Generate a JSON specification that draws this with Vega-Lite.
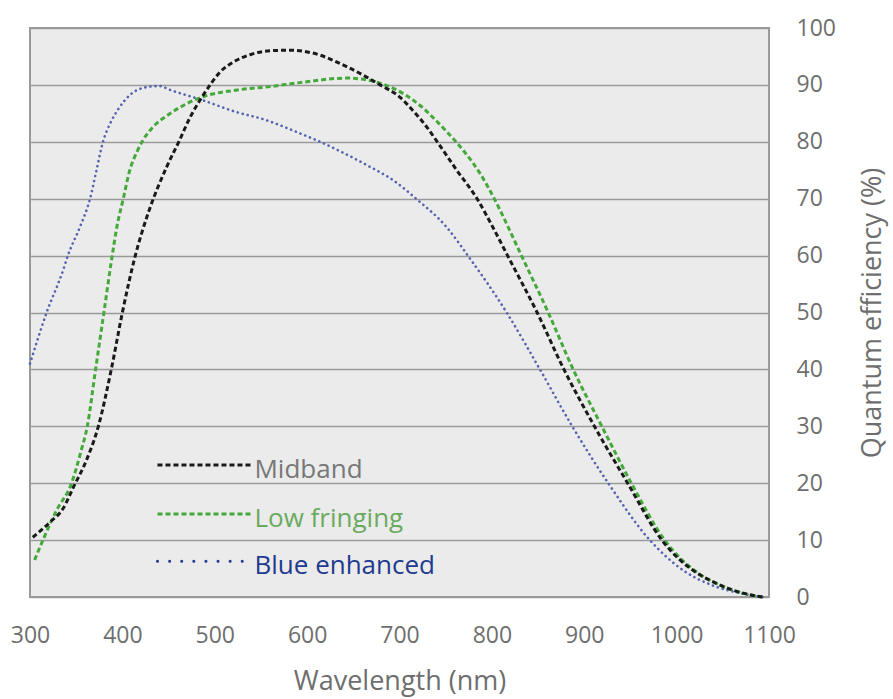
{
  "$schema": "https://vega.github.io/schema/vega-lite/v6.json",
  "width": 739,
  "height": 569,
  "autosize": {"type": "none"},
  "padding": {"left": 30, "top": 28, "right": 124, "bottom": 102},
  "background": "white",
  "config": {
    "view": {"fill": "#ebebeb", "stroke": "#9a9a9a", "strokeWidth": 2},
    "font": "Open Sans"
  },
  "datasets": {
    "curves": [
      {"series": "Midband", "wl": 303, "qe": 10.5},
      {"series": "Midband", "wl": 322, "qe": 13.2},
      {"series": "Midband", "wl": 336, "qe": 15.6},
      {"series": "Midband", "wl": 347, "qe": 19.3},
      {"series": "Midband", "wl": 361, "qe": 24},
      {"series": "Midband", "wl": 374, "qe": 30},
      {"series": "Midband", "wl": 388, "qe": 40},
      {"series": "Midband", "wl": 400, "qe": 50},
      {"series": "Midband", "wl": 414, "qe": 60},
      {"series": "Midband", "wl": 428, "qe": 67.5},
      {"series": "Midband", "wl": 448, "qe": 75.6},
      {"series": "Midband", "wl": 462, "qe": 80.3},
      {"series": "Midband", "wl": 473, "qe": 84.2},
      {"series": "Midband", "wl": 484, "qe": 87.3},
      {"series": "Midband", "wl": 495, "qe": 90},
      {"series": "Midband", "wl": 506, "qe": 92.3},
      {"series": "Midband", "wl": 520, "qe": 94},
      {"series": "Midband", "wl": 538, "qe": 95.3},
      {"series": "Midband", "wl": 560, "qe": 96},
      {"series": "Midband", "wl": 581, "qe": 96.1},
      {"series": "Midband", "wl": 606, "qe": 95.6},
      {"series": "Midband", "wl": 643, "qe": 93.2},
      {"series": "Midband", "wl": 679, "qe": 90},
      {"series": "Midband", "wl": 700, "qe": 87.9},
      {"series": "Midband", "wl": 715, "qe": 85.4},
      {"series": "Midband", "wl": 730, "qe": 82.5},
      {"series": "Midband", "wl": 740, "qe": 80.2},
      {"series": "Midband", "wl": 762, "qe": 75},
      {"series": "Midband", "wl": 784, "qe": 70},
      {"series": "Midband", "wl": 801, "qe": 65},
      {"series": "Midband", "wl": 817, "qe": 60},
      {"series": "Midband", "wl": 849, "qe": 50},
      {"series": "Midband", "wl": 878, "qe": 40},
      {"series": "Midband", "wl": 911, "qe": 30},
      {"series": "Midband", "wl": 947, "qe": 20},
      {"series": "Midband", "wl": 984, "qe": 10},
      {"series": "Midband", "wl": 1025, "qe": 3.9},
      {"series": "Midband", "wl": 1043, "qe": 2.4},
      {"series": "Midband", "wl": 1061, "qe": 1.2},
      {"series": "Midband", "wl": 1079, "qe": 0.4},
      {"series": "Midband", "wl": 1093, "qe": 0},
      {"series": "Low fringing", "wl": 305, "qe": 6.5},
      {"series": "Low fringing", "wl": 314, "qe": 10},
      {"series": "Low fringing", "wl": 329, "qe": 15.3},
      {"series": "Low fringing", "wl": 345, "qe": 20},
      {"series": "Low fringing", "wl": 355, "qe": 25.5},
      {"series": "Low fringing", "wl": 362, "qe": 30},
      {"series": "Low fringing", "wl": 371, "qe": 40},
      {"series": "Low fringing", "wl": 380, "qe": 50},
      {"series": "Low fringing", "wl": 389, "qe": 60},
      {"series": "Low fringing", "wl": 394, "qe": 65},
      {"series": "Low fringing", "wl": 401, "qe": 70},
      {"series": "Low fringing", "wl": 408, "qe": 75},
      {"series": "Low fringing", "wl": 416, "qe": 78.3},
      {"series": "Low fringing", "wl": 422, "qe": 80.2},
      {"series": "Low fringing", "wl": 432, "qe": 82.4},
      {"series": "Low fringing", "wl": 452, "qe": 85},
      {"series": "Low fringing", "wl": 487, "qe": 87.9},
      {"series": "Low fringing", "wl": 524, "qe": 89.1},
      {"series": "Low fringing", "wl": 560, "qe": 89.7},
      {"series": "Low fringing", "wl": 592, "qe": 90.4},
      {"series": "Low fringing", "wl": 643, "qe": 91.2},
      {"series": "Low fringing", "wl": 679, "qe": 90.3},
      {"series": "Low fringing", "wl": 715, "qe": 87.3},
      {"series": "Low fringing", "wl": 751, "qe": 81.8},
      {"series": "Low fringing", "wl": 770, "qe": 78.3},
      {"series": "Low fringing", "wl": 787, "qe": 74.5},
      {"series": "Low fringing", "wl": 801, "qe": 70.5},
      {"series": "Low fringing", "wl": 832, "qe": 60},
      {"series": "Low fringing", "wl": 861, "qe": 50},
      {"series": "Low fringing", "wl": 888, "qe": 40},
      {"series": "Low fringing", "wl": 919, "qe": 30},
      {"series": "Low fringing", "wl": 951, "qe": 20},
      {"series": "Low fringing", "wl": 987, "qe": 10},
      {"series": "Low fringing", "wl": 1025, "qe": 4},
      {"series": "Low fringing", "wl": 1043, "qe": 2.4},
      {"series": "Low fringing", "wl": 1061, "qe": 1.2},
      {"series": "Low fringing", "wl": 1079, "qe": 0.4},
      {"series": "Low fringing", "wl": 1093, "qe": 0},
      {"series": "Blue enhanced", "wl": 300, "qe": 41},
      {"series": "Blue enhanced", "wl": 318, "qe": 50},
      {"series": "Blue enhanced", "wl": 336, "qe": 57.5},
      {"series": "Blue enhanced", "wl": 341, "qe": 60},
      {"series": "Blue enhanced", "wl": 354, "qe": 65},
      {"series": "Blue enhanced", "wl": 365, "qe": 70},
      {"series": "Blue enhanced", "wl": 372, "qe": 75},
      {"series": "Blue enhanced", "wl": 379, "qe": 80},
      {"series": "Blue enhanced", "wl": 387, "qe": 83.3},
      {"series": "Blue enhanced", "wl": 395, "qe": 85.6},
      {"series": "Blue enhanced", "wl": 408, "qe": 88.2},
      {"series": "Blue enhanced", "wl": 426, "qe": 89.6},
      {"series": "Blue enhanced", "wl": 440, "qe": 89.8},
      {"series": "Blue enhanced", "wl": 452, "qe": 89.1},
      {"series": "Blue enhanced", "wl": 487, "qe": 87.3},
      {"series": "Blue enhanced", "wl": 524, "qe": 85.2},
      {"series": "Blue enhanced", "wl": 552, "qe": 84},
      {"series": "Blue enhanced", "wl": 592, "qe": 81.5},
      {"series": "Blue enhanced", "wl": 614, "qe": 80},
      {"series": "Blue enhanced", "wl": 660, "qe": 76.3},
      {"series": "Blue enhanced", "wl": 697, "qe": 72.8},
      {"series": "Blue enhanced", "wl": 718, "qe": 70},
      {"series": "Blue enhanced", "wl": 751, "qe": 65},
      {"series": "Blue enhanced", "wl": 774, "qe": 60},
      {"series": "Blue enhanced", "wl": 816, "qe": 50},
      {"series": "Blue enhanced", "wl": 852, "qe": 40},
      {"series": "Blue enhanced", "wl": 887, "qe": 30},
      {"series": "Blue enhanced", "wl": 926, "qe": 20},
      {"series": "Blue enhanced", "wl": 971, "qe": 10},
      {"series": "Blue enhanced", "wl": 1007, "qe": 4.7},
      {"series": "Blue enhanced", "wl": 1043, "qe": 1.8},
      {"series": "Blue enhanced", "wl": 1068, "qe": 0.7},
      {"series": "Blue enhanced", "wl": 1093, "qe": 0}
    ],
    "legend": [
      {"series": "Midband", "wl": 438, "qe": 23.2},
      {"series": "Midband", "wl": 541, "qe": 23.2},
      {"series": "Low fringing", "wl": 438, "qe": 14.6},
      {"series": "Low fringing", "wl": 541, "qe": 14.6},
      {"series": "Blue enhanced", "wl": 438, "qe": 6.3},
      {"series": "Blue enhanced", "wl": 541, "qe": 6.3}
    ],
    "labels": [
      {"series": "Midband", "wl": 543, "qe": 23.2},
      {"series": "Low fringing", "wl": 543, "qe": 14.6},
      {"series": "Blue enhanced", "wl": 543, "qe": 6.3}
    ]
  },
  "encoding": {
    "x": {
      "field": "wl", "type": "quantitative",
      "scale": {"domain": [300, 1100], "nice": false, "zero": false},
      "axis": {
        "values": [300, 400, 500, 600, 700, 800, 900, 1000, 1100],
        "format": "d", "labelFlush": false, "labelOverlap": false,
        "grid": false, "ticks": false, "domain": false,
        "labelFontSize": 23, "labelColor": "#6e6e6e", "labelPadding": 27,
        "title": "Wavelength (nm)", "titleFontSize": 27, "titleFontWeight": "normal",
        "titleColor": "#6e6e6e", "titlePadding": 21
      }
    },
    "y": {
      "field": "qe", "type": "quantitative",
      "scale": {"domain": [0, 100], "nice": false},
      "axis": {
        "orient": "right",
        "values": [0, 10, 20, 30, 40, 50, 60, 70, 80, 90, 100],
        "format": "d", "labelFlush": false, "labelOverlap": false,
        "grid": true, "gridColor": "#9a9a9a", "gridWidth": 1.5,
        "ticks": false, "domain": false,
        "labelFontSize": 23, "labelColor": "#6e6e6e", "labelPadding": 27,
        "labelAlign": "left",
        "title": "Quantum efficiency (%)", "titleFontSize": 27, "titleFontWeight": "normal",
        "titleColor": "#6e6e6e", "titleAngle": 270, "titlePadding": 51
      }
    }
  },
  "layer": [
    {
      "data": {"name": "curves"},
      "transform": [{"filter": "datum.series === 'Blue enhanced'"}],
      "mark": {"type": "line", "interpolate": "monotone", "color": "#5563b0", "strokeWidth": 2.6, "strokeDash": [0.1, 5], "strokeCap": "round"},
      "encoding": {}
    },
    {
      "data": {"name": "curves"},
      "transform": [{"filter": "datum.series === 'Low fringing'"}],
      "mark": {"type": "line", "interpolate": "monotone", "color": "#45a83a", "strokeWidth": 3, "strokeDash": [5, 3]},
      "encoding": {}
    },
    {
      "data": {"name": "curves"},
      "transform": [{"filter": "datum.series === 'Midband'"}],
      "mark": {"type": "line", "interpolate": "monotone", "color": "#1a1a1a", "strokeWidth": 3, "strokeDash": [5, 3]},
      "encoding": {}
    },
    {
      "data": {"name": "legend"},
      "transform": [{"filter": "datum.series === 'Midband'"}],
      "mark": {"type": "line", "color": "#1a1a1a", "strokeWidth": 3, "strokeDash": [5, 3]},
      "encoding": {}
    },
    {
      "data": {"name": "legend"},
      "transform": [{"filter": "datum.series === 'Low fringing'"}],
      "mark": {"type": "line", "color": "#45a83a", "strokeWidth": 3, "strokeDash": [5, 3]},
      "encoding": {}
    },
    {
      "data": {"name": "legend"},
      "transform": [{"filter": "datum.series === 'Blue enhanced'"}],
      "mark": {"type": "line", "color": "#1f3a8f", "strokeWidth": 3, "strokeDash": [0.1, 12], "strokeCap": "round"},
      "encoding": {}
    },
    {
      "data": {"name": "labels"},
      "mark": {"type": "text", "align": "left", "baseline": "middle", "dy": 5, "fontSize": 26},
      "encoding": {
        "text": {"field": "series"},
        "color": {
          "field": "series", "type": "nominal",
          "scale": {"domain": ["Midband", "Low fringing", "Blue enhanced"], "range": ["#777777", "#6aaa5e", "#1f3a8f"]},
          "legend": null
        }
      }
    }
  ]
}
